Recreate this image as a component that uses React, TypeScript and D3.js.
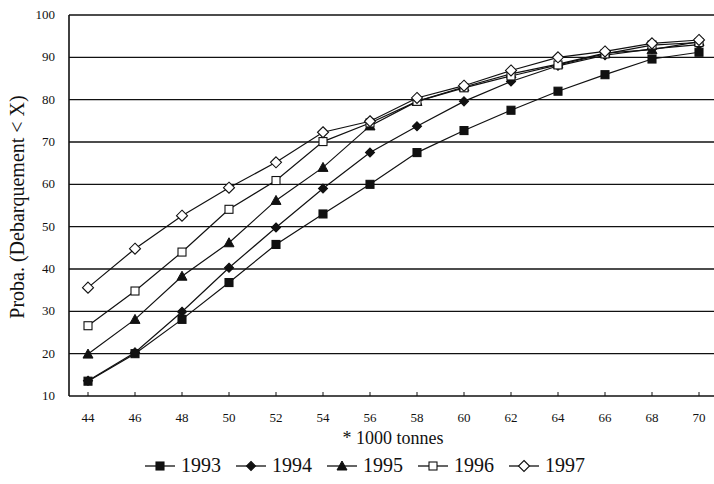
import { useEffect, useRef } from "react";
import * as d3 from "d3";

const tonnes = [44, 46, 48, 50, 52, 54, 56, 58, 60, 62, 64, 66, 68, 70];
const yTicks = [10, 20, 30, 40, 50, 60, 70, 80, 90, 100];
const years = ["1993", "1994", "1995", "1996", "1997"];

const s1993 = [13.5, 20, 28.1, 36.8, 45.8, 53, 60, 67.5, 72.7, 77.5, 82, 85.9, 89.6, 91.2];
const s1994 = [13.6, 20.3, 29.9, 40.3, 49.8, 59, 67.5, 73.7, 79.6, 84.3, 88, 90.5, 92, 93];
const s1995 = [19.9, 28.1, 38.3, 46.2, 56.2, 64, 73.8, 79.6, 83, 86.1, 88.4, 91, 91.8, 93.7];
const s1996 = [26.6, 34.8, 44, 54.1, 60.9, 70.1, 74.5, 79.6, 82.8, 85.6, 88.2, 90.8, 92.9, 93.5];
const s1997 = [35.6, 44.8, 52.6, 59.2, 65.2, 72.3, 74.9, 80.4, 83.3, 86.9, 90, 91.4, 93.3, 94.1];

const series = [s1993, s1994, s1995, s1996, s1997];
const markers = ["square", "diamond", "triangle", "square", "diamond"];
const filled = [true, true, true, false, false];

export default function App() {
  const ref = useRef<SVGSVGElement>(null);

  useEffect(() => {
    const svg = d3.select(ref.current);
    svg.selectAll("*").remove();

    const left = 69, right = 714, top = 15, bottom = 396;
    const x = d3.scalePoint<number>().domain(tonnes).range([88, 699]);
    const y = d3.scaleLinear().domain([10, 100]).range([bottom, top]);
    const font = "'Liberation Serif', 'DejaVu Serif', serif";
    const ink = "#111";

    // grid
    svg.append("g")
      .selectAll("line")
      .data(yTicks.slice(1))
      .join("line")
      .attr("x1", left).attr("x2", right)
      .attr("y1", d => y(d)).attr("y2", d => y(d))
      .attr("stroke", ink).attr("stroke-width", 1.3);

    // axes
    svg.append("line").attr("x1", left).attr("x2", left).attr("y1", top).attr("y2", bottom)
      .attr("stroke", ink).attr("stroke-width", 1.6);
    svg.append("line").attr("x1", left).attr("x2", right).attr("y1", bottom).attr("y2", bottom)
      .attr("stroke", ink).attr("stroke-width", 1.6);

    svg.append("g").selectAll("line").data(tonnes).join("line")
      .attr("x1", d => x(d)!).attr("x2", d => x(d)!)
      .attr("y1", bottom).attr("y2", bottom - 4)
      .attr("stroke", ink).attr("stroke-width", 1);

    svg.append("g").selectAll("text").data(yTicks).join("text")
      .attr("x", 55).attr("y", d => y(d) + 4)
      .attr("text-anchor", "end")
      .attr("font-family", font).attr("font-size", 13).attr("fill", ink)
      .text(d => d);

    svg.append("g").selectAll("text").data(tonnes).join("text")
      .attr("x", d => x(d)!).attr("y", 422)
      .attr("text-anchor", "middle")
      .attr("font-family", font).attr("font-size", 13).attr("fill", ink)
      .text(d => d);

    svg.append("text")
      .attr("x", 393).attr("y", 444)
      .attr("text-anchor", "middle")
      .attr("font-family", font).attr("font-size", 18).attr("fill", ink)
      .text("* 1000 tonnes");

    svg.append("text")
      .attr("transform", "translate(24,207) rotate(-90)")
      .attr("text-anchor", "middle")
      .attr("font-family", font).attr("font-size", 20).attr("fill", ink)
      .text("Proba. (Debarquement < X)");

    const drawMarker = (g: any, kind: string, fill: boolean, cx: number, cy: number) => {
      const f = fill ? ink : "#fff";
      if (kind === "square") {
        g.append("rect").attr("x", cx - 4).attr("y", cy - 4).attr("width", 8).attr("height", 8)
          .attr("fill", f).attr("stroke", ink).attr("stroke-width", 1.1);
      } else if (kind === "diamond") {
        const r = fill ? 4.5 : 5.5;
        g.append("path").attr("d", `M${cx},${cy - r}L${cx + r},${cy}L${cx},${cy + r}L${cx - r},${cy}Z`)
          .attr("fill", f).attr("stroke", ink).attr("stroke-width", 1.1);
      } else {
        g.append("path").attr("d", `M${cx},${cy - 5}L${cx + 5},${cy + 4}L${cx - 5},${cy + 4}Z`)
          .attr("fill", f).attr("stroke", ink).attr("stroke-width", 1);
      }
    };

    const line = d3.line<number>().x((_, i) => x(tonnes[i])!).y(d => y(d));

    series.forEach((s, k) => {
      const g = svg.append("g");
      g.append("path").attr("d", line(s)).attr("fill", "none")
        .attr("stroke", ink).attr("stroke-width", 1.2);
      s.forEach((v, i) => drawMarker(g, markers[k], filled[k], x(tonnes[i])!, y(v)));
    });

    // legend
    const lg = svg.append("g");
    years.forEach((yr, k) => {
      const x0 = 145 + k * 91;
      const ly = 466;
      lg.append("line").attr("x1", x0).attr("x2", x0 + 30).attr("y1", ly).attr("y2", ly)
        .attr("stroke", ink).attr("stroke-width", 1.3);
      drawMarker(lg, markers[k], filled[k], x0 + 15, ly);
      lg.append("text").attr("x", x0 + 36).attr("y", ly + 6)
        .attr("font-family", font).attr("font-size", 20).attr("fill", ink)
        .text(yr);
    });
  }, []);

  return (
    <svg ref={ref} width={714} height={484}
      style={{ position: "absolute", left: 0, top: 0, background: "#fff" }} />
  );
}
